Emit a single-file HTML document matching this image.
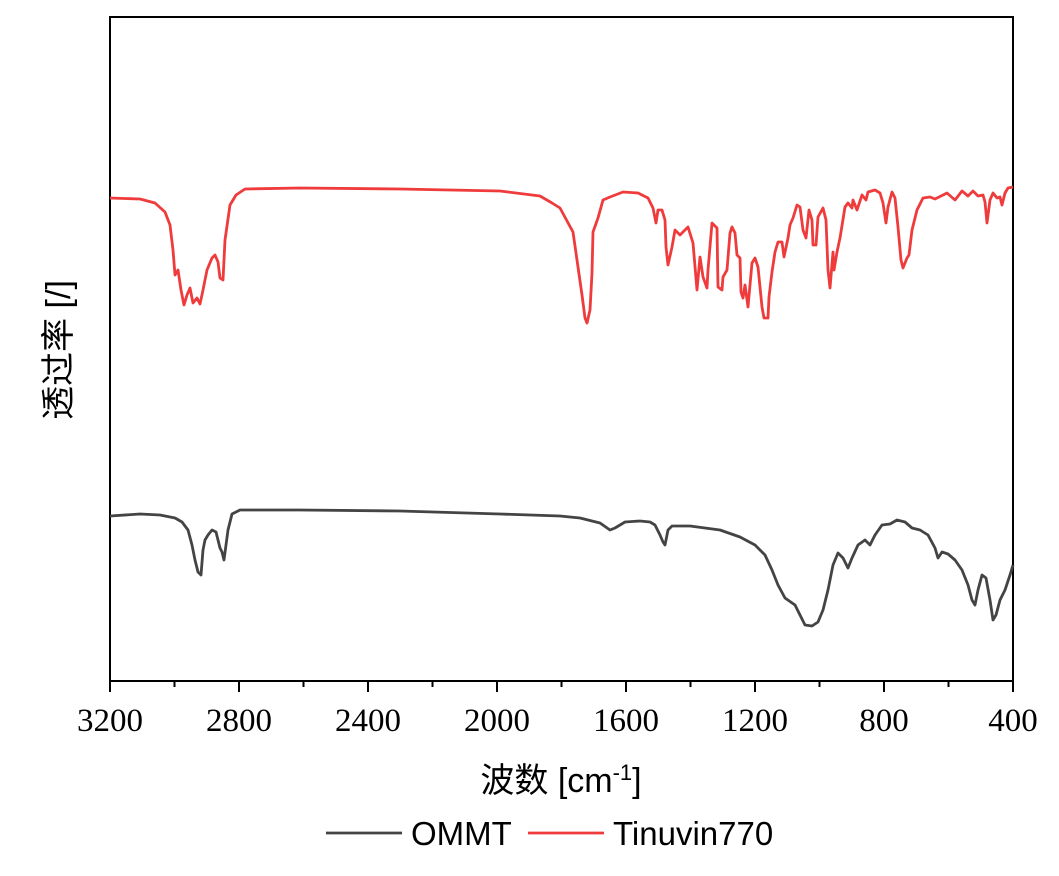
<!DOCTYPE html>
<html><head><meta charset="utf-8"><style>
body{margin:0;background:#fff}
</style></head><body>
<svg width="1059" height="871" viewBox="0 0 1059 871" xmlns="http://www.w3.org/2000/svg">
<rect x="0" y="0" width="1059" height="871" fill="#fff"/>
<rect x="110" y="17" width="903" height="664" fill="none" stroke="#000" stroke-width="2"/>
<g stroke="#000" stroke-width="2">
<line x1="110" y1="681" x2="110" y2="692"/><line x1="174.5" y1="681" x2="174.5" y2="687"/>
<line x1="239" y1="681" x2="239" y2="692"/><line x1="303.5" y1="681" x2="303.5" y2="687"/>
<line x1="368" y1="681" x2="368" y2="692"/><line x1="432.5" y1="681" x2="432.5" y2="687"/>
<line x1="497" y1="681" x2="497" y2="692"/><line x1="561.5" y1="681" x2="561.5" y2="687"/>
<line x1="626" y1="681" x2="626" y2="692"/><line x1="690.5" y1="681" x2="690.5" y2="687"/>
<line x1="755" y1="681" x2="755" y2="692"/><line x1="819.5" y1="681" x2="819.5" y2="687"/>
<line x1="884" y1="681" x2="884" y2="692"/><line x1="948.5" y1="681" x2="948.5" y2="687"/>
<line x1="1013" y1="681" x2="1013" y2="692"/>
</g>
<g font-family="Liberation Serif, serif" font-size="33" text-anchor="middle" fill="#000">
<text x="110" y="731">3200</text><text x="239" y="731">2800</text><text x="368" y="731">2400</text>
<text x="497" y="731">2000</text><text x="626" y="731">1600</text><text x="755" y="731">1200</text>
<text x="884" y="731">800</text><text x="1013" y="731">400</text>
</g>
<text x="561" y="792" text-anchor="middle" font-family="Liberation Sans, Noto Sans CJK SC, sans-serif" font-size="34">波数 [cm<tspan baseline-shift="super" font-size="22">-1</tspan>]</text>
<text transform="translate(70,350) rotate(-90)" text-anchor="middle" font-family="Liberation Sans, Noto Sans CJK SC, sans-serif" font-size="34">透过率 [/]</text>
<polyline fill="none" stroke="#ef3b3b" stroke-width="2.8" stroke-linejoin="round" points="110,198 140,199 155,203 165,212 170,225 173,250 175,275 178,270 181,290 184,305 187,295 190,288 193,303 197,298 200,304 203,290 207,270 212,258 215,255 218,262 220,278 223,280 225,240 230,205 236,195 245,189 300,188 400,189 500,191 540,196 552,203 560,208 573,232 577,260 582,295 585,318 587,323 590,310 592,273 593,232 598,218 603,200 610,197 623,192 638,193 648,198 653,208 656,223 658,210 662,210 665,220 666,247 668,265 672,247 675,230 680,235 688,227 693,243 697,290 700,257 703,277 707,288 708,270 712,223 717,228 718,287 722,290 723,277 727,270 730,233 732,227 735,233 737,255 740,258 741,292 743,298 745,285 748,307 752,263 755,258 758,267 760,287 762,307 764,318 768,318 769,297 772,272 775,252 778,242 782,242 784,257 788,238 790,225 793,218 797,205 800,207 803,230 806,238 809,210 812,220 813,245 816,245 818,217 823,208 826,220 828,270 830,288 833,252 834,270 837,252 840,238 845,207 848,203 852,208 853,200 857,210 862,195 866,200 868,192 875,190 880,193 883,203 886,223 888,207 892,192 895,198 898,227 901,260 903,268 907,258 909,255 912,230 917,210 923,198 930,197 935,199 947,193 955,200 962,191 968,196 973,191 978,196 983,195 985,202 987,223 990,200 993,193 997,198 1000,197 1002,205 1005,193 1008,188 1013,187"/>
<polyline fill="none" stroke="#444" stroke-width="2.8" stroke-linejoin="round" points="110,516 140,514 160,515 175,518 182,522 188,530 192,545 195,560 198,572 201,575 203,550 205,540 208,535 212,530 216,532 218,540 220,548 222,552 224,560 226,545 228,530 232,514 240,510 300,510 400,511 500,514 560,516 580,518 600,523 610,530 615,528 625,522 640,521 650,522 655,525 660,535 663,542 665,545 668,530 672,526 690,526 720,530 740,537 755,545 765,555 772,570 778,585 785,598 795,605 800,615 805,625 812,626 818,622 823,610 828,590 833,565 838,553 843,558 848,568 852,558 858,545 865,540 870,545 875,535 882,525 890,524 897,520 905,522 912,528 920,530 928,535 935,548 938,558 942,552 948,554 955,560 962,570 968,585 972,600 975,605 978,590 982,575 986,578 990,600 993,620 996,615 1000,600 1005,590 1010,575 1013,565"/>
<line x1="326" y1="833" x2="402" y2="833" stroke="#444" stroke-width="2.8"/>
<line x1="528" y1="833" x2="604" y2="833" stroke="#ef3b3b" stroke-width="2.8"/>
<g font-family="Liberation Sans, sans-serif" font-size="33" fill="#000">
<text x="411" y="845">OMMT</text><text x="613" y="845">Tinuvin770</text>
</g>
</svg>
</body></html>
